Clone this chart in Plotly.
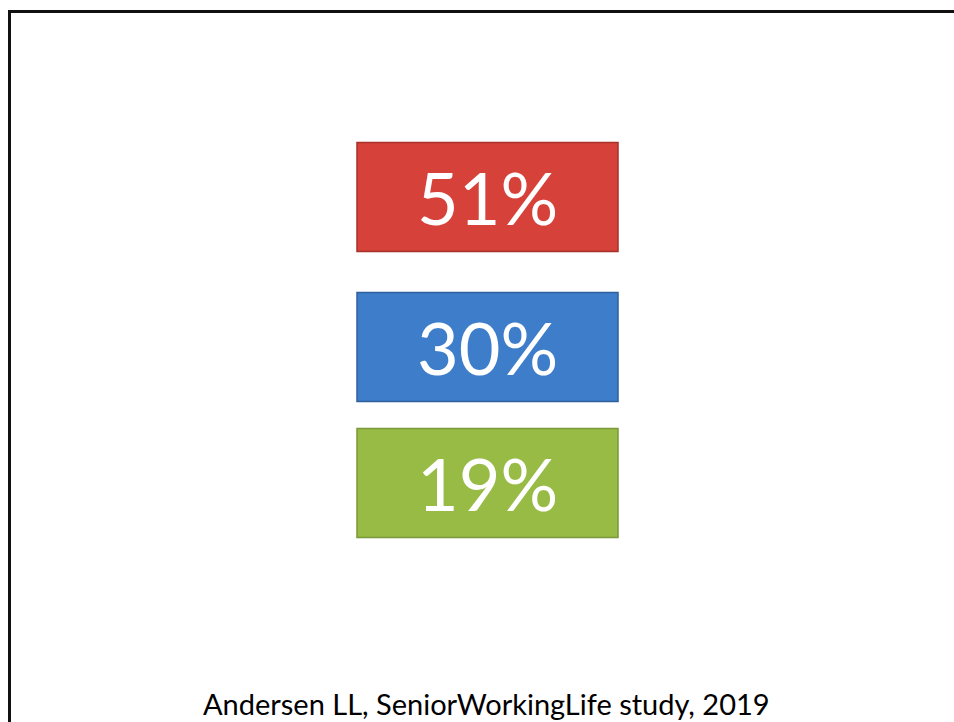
import plotly.graph_objects as go

# Survey shares shown as three stacked labelled boxes
shares = [51, 30, 19]
labels = [f"{v}%" for v in shares]
source_note = "Andersen LL, SeniorWorkingLife study, 2019"

# Styling and placement (pixel units of the 954x722 page)
W, H = 954, 722
box_left, box_right = 357, 618
box_centers = [197, 347, 483]
box_height = 109
fill_colors = ["#d6423a", "#3e7dca", "#97bb45"]
edge_colors = ["#a8302a", "#2f609c", "#7a983a"]

fig = go.Figure(
    go.Bar(
        orientation="h",
        y=box_centers,
        x=[box_right - box_left] * len(shares),
        base=box_left,
        width=box_height,
        text=labels,
        textposition="inside",
        insidetextanchor="middle",
        textfont=dict(family="Lato", size=72, color="white"),
        marker=dict(color=fill_colors, line=dict(color=edge_colors, width=1.5)),
        hoverinfo="skip",
        showlegend=False,
    )
)

# Slide frame running off the right and bottom edges
fig.add_shape(
    type="rect", xref="paper", yref="paper",
    x0=9.5 / W, x1=1.05, y0=-0.05, y1=1 - 11.5 / H,
    line=dict(color="#111111", width=3), layer="above",
)

fig.add_annotation(
    text=source_note, xref="paper", yref="paper",
    x=487 / W, y=1 - 703 / H, xanchor="center", yanchor="middle",
    showarrow=False, font=dict(family="Lato", size=29, color="black"),
)

fig.update_layout(
    width=W, height=H,
    margin=dict(l=0, r=0, t=0, b=0),
    paper_bgcolor="white", plot_bgcolor="white",
    xaxis=dict(range=[0, W], visible=False, fixedrange=True),
    yaxis=dict(range=[H, 0], visible=False, fixedrange=True),
)

fig.write_html("out.html")
